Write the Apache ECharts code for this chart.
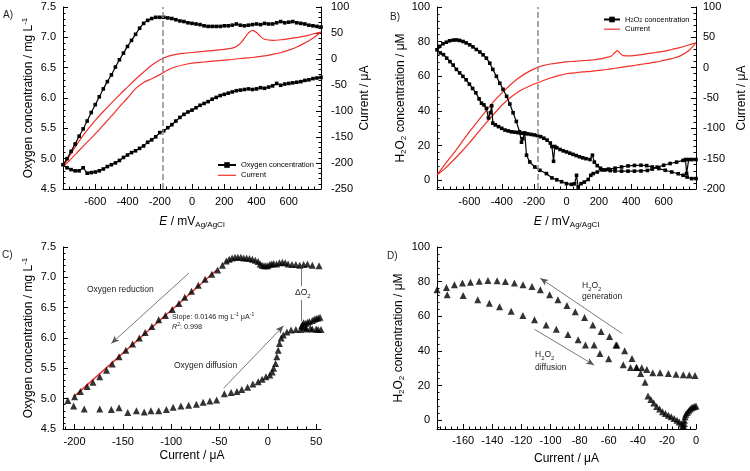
<!DOCTYPE html>
<html>
<head>
<meta charset="utf-8">
<script src="https://cdn.jsdelivr.net/npm/echarts@6/dist/echarts.min.js"></script>
<style>html,body{margin:0;padding:0;background:#fff}#c{width:750px;height:471px}</style>
</head>
<body>
<div id="c"></div>
<script>
// ---------- Panel A : O2 concentration & current vs potential ----------
const aE_cath = [800,775,750,725,700,675,650,625,600,575,550,525,500,475,450,425,400,375,350,325,300,275,250,225,200,175,150,125,100,75,50,25,0,-25,-50,-75,-100,-125,-150,-175,-200,-225,-250,-275,-300,-325,-350,-375,-400,-425,-450,-475,-500,-525,-550,-575,-600,-625,-650,-675,-700,-725,-750,-775,-800];
const aO2_cath = [7.17,7.18,7.19,7.20,7.22,7.23,7.24,7.26,7.25,7.24,7.26,7.24,7.22,7.22,7.23,7.21,7.22,7.21,7.20,7.19,7.20,7.22,7.20,7.19,7.19,7.18,7.18,7.18,7.18,7.19,7.21,7.22,7.23,7.24,7.26,7.27,7.29,7.31,7.32,7.33,7.33,7.33,7.31,7.28,7.23,7.15,7.05,6.95,6.85,6.74,6.63,6.51,6.38,6.27,6.15,6.02,5.89,5.76,5.62,5.49,5.37,5.24,5.12,5.00,4.90];
const aE_anod = [-775,-750,-725,-700,-675,-650,-625,-600,-575,-550,-525,-500,-475,-450,-425,-400,-375,-350,-325,-300,-275,-250,-225,-200,-175,-150,-125,-100,-75,-50,-25,0,25,50,75,100,125,150,175,200,225,250,275,300,325,350,375,400,425,450,475,500,525,550,575,600,625,650,675,700,725,750,775,800];
const aO2_anod = [4.85,4.82,4.80,4.80,4.85,4.76,4.77,4.78,4.80,4.83,4.87,4.90,4.93,4.97,5.02,5.06,5.10,5.13,5.17,5.21,5.27,5.31,5.36,5.43,5.46,5.51,5.56,5.62,5.68,5.73,5.77,5.80,5.84,5.88,5.91,5.94,5.98,6.01,6.04,6.06,6.08,6.10,6.12,6.13,6.14,6.15,6.14,6.15,6.17,6.16,6.18,6.20,6.24,6.21,6.23,6.24,6.25,6.26,6.27,6.29,6.30,6.32,6.33,6.34];
const aEcur_cath = [800,750,700,650,600,550,500,450,400,350,300,250,200,150,100,50,0,-50,-100,-150,-200,-250,-300,-350,-400,-450,-500,-550,-600,-650,-700,-750,-800];
const aI_cath = [52,40,31,23,17,12,9,6,4,2,1,-1,-2,-3.5,-5,-6.5,-8,-11,-15,-21,-30,-38,-45,-57,-75,-92,-110,-127,-144,-160,-176,-192,-207];
const aEcur_anod = [-750,-700,-650,-600,-550,-500,-450,-400,-350,-300,-250,-200,-150,-100,-50,0,50,100,150,200,250,275,300,325,350,375,400,425,450,500,550,600,650,700,750,800];
const aI_anod = [-182,-158,-137,-118,-101,-85,-69,-54,-39,-25,-12,-2,5,9,11,12.5,14,15.5,17,18.5,21,24,30,40,50,55,51,43,38,36,37,39,41,44,48,52];

// ---------- Panel B : H2O2 concentration & current vs potential ----------
const bE_cath = [800,773,745,720,690,650,610,570,530,495,460,420,380,340,300,260,220,190,165,150,134,110,90,72,62,50,30,0,-30,-60,-90,-124,-165,-196,-227,-247,-258,-270,-278,-290,-310,-330,-350,-370,-392,-412,-433,-455,-474,-495,-515,-535,-557,-578,-598,-620,-639,-660,-680,-700,-722,-742,-763,-783,-800];
const bH_cath = [1.0,1.0,1.9,2.9,3.8,4.8,5.8,6.8,7.7,8.5,8.7,8.6,8.3,7.7,7.0,6.5,6.0,4.8,3.9,2.9,0.5,-1.0,-1.9,-3.9,2.9,-2.0,-2.3,-1.9,-0.8,0.3,1.4,3.9,5.8,7.7,10.6,14.5,27.4,24,22,28,34,39,44,48.5,52.5,56,60,64,67.6,70.5,72.4,74,75.5,77,78.2,79.3,80.1,80.7,81,80.9,80.5,79.7,78.8,77.3,75.3];
const bE_anod = [-780,-760,-740,-720,-700,-680,-660,-640,-620,-600,-580,-560,-540,-525,-510,-495,-482,-470,-462,-455,-440,-420,-400,-380,-360,-340,-320,-300,-280,-260,-240,-220,-200,-180,-160,-140,-120,-100,-90,-80,-72,-60,-40,-20,0,20,40,60,80,100,120,145,160,172,190,210,240,270,300,340,380,420,460,500,530,560,600,640,680,720,735,742,755,775,800];
const bH_anod = [73.5,72.5,70.5,68.5,66.5,64,62,60,58,55.5,53,50.5,47,44.5,43.5,41.5,36,39,43,33,32,31,30,29,28.5,28,27.8,27.5,27.2,27,26.8,26.5,26.2,25.8,25.2,24.3,23.2,21.5,19.5,11,19.5,18.8,17.8,17,16.4,15.7,15,14.3,13.6,13,12.5,12,14.5,10.5,8.5,7,6,5.6,5.4,5.3,5.3,5.3,5.4,5.7,6.5,7.6,8.7,9.7,10.5,11.5,12,4,12,12,12];
const bEcur_cath = [800,750,700,650,600,550,500,450,400,350,300,250,200,150,100,50,0,-50,-100,-150,-200,-250,-300,-350,-400,-450,-500,-550,-600,-650,-700,-750,-800];
const bI_cath = [41,27,19,15,12,9,7,5,3,1,-1,-3,-4.5,-6,-7,-8.5,-10,-13,-17,-22,-27,-33,-40,-50,-62,-77,-92,-108,-124,-139,-153,-166,-177];
const bEcur_anod = [-750,-700,-650,-600,-550,-500,-450,-400,-350,-300,-250,-200,-150,-100,-50,0,50,100,150,200,250,275,300,315,330,350,400,450,500,550,600,650,700,750,800];
const bI_anod = [-159,-142,-124,-106,-89,-72,-56,-42,-29,-18,-9,-2,3,6,8,9.5,10.5,11.5,12.5,14,17,19,25,28,24,20,19.5,21,23,25,27,30,33,37,41];

// ---------- Panel C : O2 concentration vs current ----------
const cI_red = [-213,-207,-200,-194,-187,-181,-174,-167,-161,-154,-147,-140,-133,-127,-120,-113,-106,-99,-92,-86,-79,-72,-65,-58,-52,-47,-43,-40,-37,-34,-31,-28,-25,-22,-19,-16,-13,-10,-8,-6,-4,-2,0,2,4,6,9,12,15,18,21,25,29,33,37,41,46,53];
const cO2_red = [4.90,4.97,5.03,5.12,5.20,5.27,5.36,5.47,5.57,5.69,5.80,5.90,6.00,6.09,6.19,6.30,6.37,6.47,6.57,6.67,6.77,6.87,6.97,7.05,7.12,7.20,7.27,7.30,7.32,7.33,7.33,7.33,7.32,7.32,7.31,7.30,7.28,7.26,7.22,7.20,7.19,7.19,7.19,7.21,7.22,7.23,7.22,7.24,7.25,7.24,7.22,7.21,7.21,7.20,7.21,7.22,7.20,7.19];
const cI_dif = [-201,-190,-174,-162,-154,-145,-136,-128,-121,-113,-105,-98,-90,-82,-74,-67,-60,-53,-45,-38,-32,-27,-21,-15.5,-10,-6,-2,2,4.5,6,8,9.3,10.7,12,13.8,16,19.7,24,29,34,40,46,52,55,50,44,39,36,35,36,37,39,41,43,46,48,50,52,54];
const cO2_dif = [4.88,4.83,4.83,4.82,4.85,4.77,4.80,4.78,4.80,4.80,4.82,4.86,4.88,4.89,4.91,4.94,4.96,4.98,5.08,5.10,5.12,5.15,5.19,5.24,5.28,5.32,5.36,5.39,5.44,5.50,5.58,5.69,5.80,5.91,6.00,6.05,6.10,6.13,6.14,6.14,6.15,6.15,6.14,6.14,6.15,6.16,6.17,6.18,6.20,6.22,6.25,6.24,6.26,6.27,6.29,6.31,6.32,6.33,6.34];
const cFitI = [-201,-53];
const cFitO2 = [5.03,7.12];

// ---------- Panel D : H2O2 concentration vs current ----------
const dI_gen = [-178,-171.5,-166,-160.5,-155,-149,-143,-136.7,-131,-124.8,-118.9,-112.7,-107,-100.6,-94.9,-88.7,-83,-76.6,-70.9,-65.2,-59.4,-54.4,-49,-44,-40.7,-37.3,-33.8,-29.7,-24.7,-19,-13.7,-8.7,-4.6,-0.7];
const dH_gen = [75.3,76.6,78.2,79.2,79.7,80.3,80.7,80.5,80.1,79.2,78.2,77.2,75.3,72.4,69.5,66.2,62.7,59.3,55,51.2,48.3,43.4,40.2,35.7,30.5,30.3,29.3,27.4,27.4,27,26.6,26.3,26.1,25.9];
const dI_dif = [-171,-160,-150,-142,-135,-127,-119,-111,-103,-96,-88,-81,-76,-70,-66,-60,-55,-50,-45,-41,-38,-35,-33,-31,-29,-27,-25,-23,-21,-19,-17,-15,-13,-11.5,-10,-9,-8.5,-8,-8,-7.5,-7,-6,-5,-4,-3,-2,-1,0];
const dH_dif = [72.5,72,69.5,67.5,65.5,63,60.5,58,55,52.5,49.5,46.5,43.5,43.5,38.5,35.5,43.5,32,30.5,30.5,27,22,14,12,10,8,6.5,5,4,3,2,1,0,-1,-2,-3,-3.5,-2,0,2,3.5,4.5,5.5,6.5,7.2,7.7,8,8.2];

// ---------- Tick labels ----------
const eLabels = [-600,-400,-200,0,200,400,600];
const o2Labels = [4.5,5.0,5.5,6.0,6.5,7.0,7.5];
const aCurLabels = [-250,-200,-150,-100,-50,0,50,100];
const h2o2Labels = [0,20,40,60,80,100];
const bCurLabels = [-200,-150,-100,-50,0,50,100];
const cXLabels = [-200,-150,-100,-50,0,50];
const dXLabels = [-160,-140,-120,-100,-80,-60,-40,-20,0];
const dashedE = -180;

// ---------- helpers ----------
const FONT = '"Liberation Sans", Arial, Helvetica, sans-serif';
const zip = (xs, ys) => xs.map((x, i) => [x, ys[i]]);
function ticksList(min, max, step, skipStep) {
  const out = [];
  const start = Math.ceil(min / step - 1e-9) * step;
  for (let v = start; v <= max + 1e-9; v += step) {
    const r = Math.round(v * 1e6) / 1e6;
    if (skipStep && Math.abs(r / skipStep - Math.round(r / skipStep)) < 1e-6) continue;
    out.push(r);
  }
  return out;
}
const RICH = {
  sup: {fontSize: 8, lineHeight: 8, verticalAlign: 'top', fontFamily: FONT, color: '#000'},
  sub: {fontSize: 8, lineHeight: 8, verticalAlign: 'bottom', fontFamily: FONT, color: '#000'},
  i: {fontSize: 12, fontStyle: 'italic', fontFamily: FONT, color: '#000', lineHeight: 15}
};
function axisPair(o) {
  const major = {
    type: 'value', gridIndex: o.grid, min: o.min, max: o.max, position: o.pos,
    axisLine: {show: true, onZero: false, lineStyle: {color: '#000', width: 1}},
    axisTick: {show: true, inside: true, length: 5, customValues: ticksList(o.min, o.max, o.major), lineStyle: {color: '#000', width: 1}},
    axisLabel: {show: true, customValues: o.labels, formatter: o.fmt || (v => String(v)), fontSize: 11, color: '#000', fontFamily: FONT, margin: o.margin || 6},
    splitLine: {show: false},
    name: o.name, nameLocation: 'middle', nameGap: o.gap, nameRotate: o.rot,
    nameTextStyle: {fontSize: 12, color: '#000', fontFamily: FONT, lineHeight: 15, rich: RICH}
  };
  const minor = {
    type: 'value', gridIndex: o.grid, min: o.min, max: o.max, position: o.pos,
    axisLine: {show: false, onZero: false},
    axisTick: {show: true, inside: true, length: 2.5, customValues: ticksList(o.min, o.max, o.minor, o.major), lineStyle: {color: '#000', width: 1}},
    axisLabel: {show: false}, splitLine: {show: false}
  };
  return [major, minor];
}
const f1 = v => v.toFixed(1);
const eName = '{i|E} / mV{sub|Ag/AgCl}';
const o2Name = 'Oxygen concentration / mg L{sup|-1}';
const h2Name = 'H{sub|2}O{sub|2} concentration / μM';
const curName = 'Current / μA';

const xAxis = [].concat(
  axisPair({grid: 0, min: -800, max: 800, labels: eLabels, major: 200, minor: 40, pos: 'bottom', name: eName, gap: 25, margin: 7}),
  axisPair({grid: 1, min: -800, max: 800, labels: eLabels, major: 200, minor: 40, pos: 'bottom', name: eName, gap: 25, margin: 7}),
  axisPair({grid: 2, min: -212, max: 55, labels: cXLabels, major: 50, minor: 10, pos: 'bottom', name: curName, gap: 18, margin: 7}),
  axisPair({grid: 3, min: -178, max: 0, labels: dXLabels, major: 20, minor: 4, pos: 'bottom', name: curName, gap: 22, margin: 6})
);
const yAxis = [].concat(
  axisPair({grid: 0, min: 4.5, max: 7.5, labels: o2Labels, major: 0.5, minor: 0.1, pos: 'left', fmt: f1, name: o2Name, gap: 27, rot: 90, margin: 7}),
  axisPair({grid: 0, min: -250, max: 100, labels: aCurLabels, major: 50, minor: 10, pos: 'right', name: curName, gap: 36, rot: 90, margin: 10}),
  axisPair({grid: 1, min: -5, max: 100, labels: h2o2Labels, major: 20, minor: 4, pos: 'left', name: h2Name, gap: 27, rot: 90, margin: 7}),
  axisPair({grid: 1, min: -200, max: 100, labels: bCurLabels, major: 50, minor: 10, pos: 'right', name: curName, gap: 38, rot: 90, margin: 7}),
  axisPair({grid: 2, min: 4.5, max: 7.5, labels: o2Labels, major: 0.5, minor: 0.1, pos: 'left', fmt: f1, name: o2Name, gap: 27, rot: 90, margin: 7}),
  axisPair({grid: 3, min: -5, max: 100, labels: h2o2Labels, major: 20, minor: 4, pos: 'left', name: h2Name, gap: 31, rot: 90, margin: 7})
);

const RED = '#f0302a';
const dashLine = {
  silent: true, symbol: 'none', label: {show: false},
  lineStyle: {color: '#8a8a8a', width: 1.5, type: [6, 3]},
  data: [{xAxis: dashedE}]
};
const arrowStyle = {color: '#555', width: 0.8, type: 'solid'};

const series = [
  {name: 'Oxygen concentration', type: 'line', xAxisIndex: 0, yAxisIndex: 0,
   data: zip(aE_cath, aO2_cath).concat(zip(aE_anod, aO2_anod)),
   symbol: 'rect', symbolSize: 3.6, showAllSymbol: true,
   itemStyle: {color: '#000'}, lineStyle: {color: '#000', width: 1.2}, z: 3,
   markLine: dashLine},
  {name: 'Current', type: 'line', xAxisIndex: 0, yAxisIndex: 2,
   data: zip(aEcur_cath, aI_cath).concat(zip(aEcur_anod, aI_anod)),
   symbol: 'none', smooth: 0.3, itemStyle: {color: RED}, lineStyle: {color: RED, width: 1.2}, z: 2},
  {name: 'H2O2 concentration', type: 'line', xAxisIndex: 2, yAxisIndex: 4,
   data: zip(bE_cath, bH_cath).concat(zip(bE_anod, bH_anod)),
   symbol: 'rect', symbolSize: 3.6, showAllSymbol: true,
   itemStyle: {color: '#000'}, lineStyle: {color: '#000', width: 1.2}, z: 3,
   markLine: dashLine},
  {name: 'Current', type: 'line', xAxisIndex: 2, yAxisIndex: 6,
   data: zip(bEcur_cath, bI_cath).concat(zip(bEcur_anod, bI_anod)),
   symbol: 'none', smooth: 0.3, itemStyle: {color: RED}, lineStyle: {color: RED, width: 1.2}, z: 2},
  {name: 'fit', type: 'line', xAxisIndex: 4, yAxisIndex: 8, data: zip(cFitI, cFitO2),
   symbol: 'none', lineStyle: {color: RED, width: 1.5}, z: 1},
  {name: 'O2 reduction', type: 'scatter', xAxisIndex: 4, yAxisIndex: 8, data: zip(cI_red, cO2_red),
   symbol: 'triangle', symbolSize: 7, itemStyle: {color: '#000'}, z: 3,
   markLine: {silent: true, symbol: ['none', 'arrow'], symbolSize: [5, 8], label: {show: false}, lineStyle: arrowStyle,
     data: [
       [{coord: [-81.7, 7.07]}, {coord: [-162, 5.91]}],
       [{coord: [-45.9, 5.17]}, {coord: [16.2, 6.20]}],
       [{coord: [34.5, 7.18], symbol: 'none'}, {coord: [34.5, 6.28], symbol: 'none'}]
     ]}},
  {name: 'O2 diffusion', type: 'scatter', xAxisIndex: 4, yAxisIndex: 8, data: zip(cI_dif, cO2_dif),
   symbol: 'triangle', symbolSize: 7, itemStyle: {color: '#000'}, z: 3},
  {name: 'H2O2 generation', type: 'scatter', xAxisIndex: 6, yAxisIndex: 10, data: zip(dI_gen, dH_gen),
   symbol: 'triangle', symbolSize: 7, itemStyle: {color: '#000'}, z: 3,
   markLine: {silent: true, symbol: ['none', 'arrow'], symbolSize: [5, 8], label: {show: false}, lineStyle: arrowStyle,
     data: [
       [{coord: [-51, 50.2]}, {coord: [-107, 82]}],
       [{coord: [-111, 52.5]}, {coord: [-70, 31.9]}]
     ]}},
  {name: 'H2O2 diffusion', type: 'scatter', xAxisIndex: 6, yAxisIndex: 10, data: zip(dI_dif, dH_dif),
   symbol: 'triangle', symbolSize: 7, itemStyle: {color: '#000'}, z: 3}
];

const legendText = {fontSize: 7.5, color: '#000', fontFamily: FONT,
  rich: {s: {fontSize: 5.5, verticalAlign: 'bottom', lineHeight: 8, fontFamily: FONT, color: '#000'}}};
const legendFmt = n => n === 'H2O2 concentration' ? 'H{s|2}O{s|2} concentration' : n;
const curLegendItem = {name: 'Current', itemStyle: {opacity: 0, color: 'rgba(0,0,0,0)', borderWidth: 0}, lineStyle: {color: RED, width: 1.2, opacity: 1}};

const T = (x, y, text, size, extra) => Object.assign({
  type: 'text', x: x, y: y, silent: true, z: 50,
  style: {text: text, fontSize: size, fontFamily: FONT, fill: '#222', align: 'left', verticalAlign: 'middle',
    rich: {sup: {fontSize: size * 0.7, verticalAlign: 'top', lineHeight: size * 0.7, fontFamily: FONT, fill: '#222'},
           sub: {fontSize: size * 0.7, verticalAlign: 'bottom', lineHeight: size * 0.7, fontFamily: FONT, fill: '#222'},
           n: {fontSize: size, lineHeight: size * 1.4, fontFamily: FONT, fill: '#222'},
           i: {fontSize: size, lineHeight: size * 1.4, fontStyle: 'italic', fontFamily: FONT, fill: '#222'}}}
}, extra || {});

const dO2 = T(294, 293, '{n|ΔO}{sub|2}', 8.5);
dO2.style.backgroundColor = '#fff';
dO2.style.padding = [1, 1, 1, 1];

const option = {
  animation: false,
  backgroundColor: '#fff',
  grid: [
    {left: 63, top: 7, width: 258, height: 182},
    {left: 437, top: 7, width: 259, height: 182},
    {left: 63, top: 247, width: 258, height: 182},
    {left: 437, top: 247, width: 259, height: 182}
  ],
  xAxis: xAxis,
  yAxis: yAxis,
  legend: [
    {data: [{name: 'Oxygen concentration', itemStyle: {color: '#000'}}, curLegendItem], left: 217, top: 161, orient: 'vertical', itemWidth: 18, itemHeight: 7, itemGap: 2.3, padding: 0, textStyle: legendText, formatter: legendFmt, selectedMode: false},
    {data: [{name: 'H2O2 concentration', itemStyle: {color: '#000'}}, curLegendItem], left: 603, top: 15.5, orient: 'vertical', itemWidth: 16, itemHeight: 7, itemGap: 1.7, padding: 0, textStyle: legendText, formatter: legendFmt, selectedMode: false}
  ],
  series: series,
  graphic: [
    T(3, 15, 'A)', 10),
    T(390, 17, 'B)', 10),
    T(2, 255, 'C)', 10),
    T(387, 256, 'D)', 10),
    T(87, 290, '{n|Oxygen reduction}', 8.5),
    T(172, 317, '{n|Slope: 0.0146 mg L}{sup|-1}{n| μA}{sup|-1}', 7.2),
    T(172, 327, '{i|R}{sup|2}{n|: 0.998}', 7.2),
    T(174, 366, '{n|Oxygen diffusion}', 8.5),
    dO2,
    T(582, 286, '{n|H}{sub|2}{n|O}{sub|2}', 8.5),
    T(582, 297, '{n|generation}', 8.5),
    T(535, 355, '{n|H}{sub|2}{n|O}{sub|2}', 8.5),
    T(535, 368, '{n|diffusion}', 8.5)
  ]
};

const chart = echarts.init(document.getElementById('c'), null, {renderer: 'canvas'});
chart.setOption(option);
</script>
</body>
</html>
